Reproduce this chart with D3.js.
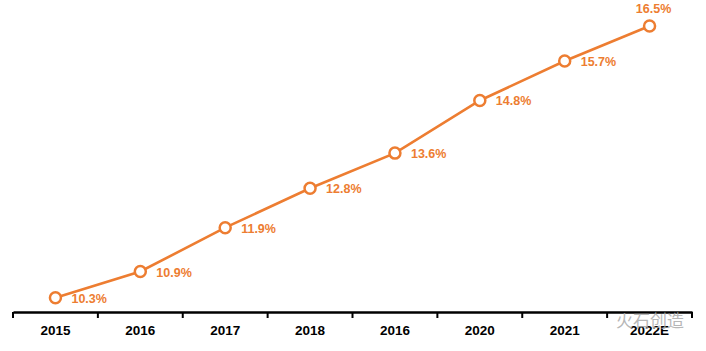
<!DOCTYPE html>
<html>
<head>
<meta charset="utf-8">
<script src="https://cdn.jsdelivr.net/npm/d3@7"></script>
<style>
  body { margin: 0; background: #fff; }
  svg { display: block; font-family: "Liberation Sans", Arial, sans-serif; }
</style>
</head>
<body>
<div id="chart"></div>
<script>
const categories = ["2015", "2016", "2017", "2018", "2016", "2020", "2021", "2022E"]
const values = [10.3, 10.9, 11.9, 12.8, 13.6, 14.8, 15.7, 16.5]
const labels = ["10.3%", "10.9%", "11.9%", "12.8%", "13.6%", "14.8%", "15.7%", "16.5%"]

const W = 706, H = 351
const color = "#ED7D31"
const margin = { left: 13, right: 14, top: 4, bottom: 40 }

const svg = d3.select("#chart").append("svg")
    .attr("width", W)
    .attr("height", H)

// x: one band per category, point at band centre
const x = d3.scaleBand()
    .domain(d3.range(categories.length))
    .range([margin.left, W - margin.right])

const y = d3.scaleLinear()
    .domain([10, 17])
    .range([H - margin.bottom, margin.top])

const axisY = 312

/* X AXIS */
const xAxis = svg.append("g")
    .attr("transform", `translate(0, ${axisY})`)
    .call(d3.axisBottom(x).tickSize(0).tickFormat(i => categories[i]))

xAxis.select(".domain")
    .attr("stroke", "#000")
    .attr("stroke-width", 2.5)
xAxis.selectAll("text")
    .attr("dy", 0)
    .attr("y", 23)
    .style("font-size", "13.5px")
    .style("font-weight", "bold")
    .style("font-family", "'Liberation Sans', Arial, sans-serif")
    .attr("fill", "#000")

// tick marks on band boundaries
const bounds = d3.range(categories.length + 1).map(i => margin.left + i * x.step())
xAxis.selectAll(".bound")
    .data(bounds)
    .enter()
    .append("line")
    .attr("class", "bound")
    .attr("x1", d => d)
    .attr("x2", d => d)
    .attr("y1", 0)
    .attr("y2", 6)
    .attr("stroke", "#000")
    .attr("stroke-width", 2)

const cx = i => x(i) + x.bandwidth() / 2

/* LINE */
svg.append("path")
    .datum(values)
    .attr("fill", "none")
    .attr("stroke", color)
    .attr("stroke-width", 2.6)
    .attr("d", d3.line().x((d, i) => cx(i)).y(d => y(d)))

/* MARKERS */
svg.selectAll(".pt")
    .data(values)
    .enter()
    .append("circle")
    .attr("class", "pt")
    .attr("cx", (d, i) => cx(i))
    .attr("cy", d => y(d))
    .attr("r", 5.5)
    .attr("fill", "#fff")
    .attr("stroke", color)
    .attr("stroke-width", 2.5)

/* LABELS */
const last = values.length - 1
svg.selectAll(".lbl")
    .data(values)
    .enter()
    .append("text")
    .attr("class", "lbl")
    .attr("x", (d, i) => i === last ? cx(i) + 4 : cx(i) + 16)
    .attr("y", (d, i) => i === last ? y(d) - 13 : y(d) + 5)
    .attr("text-anchor", (d, i) => i === last ? "middle" : "start")
    .attr("fill", color)
    .style("font-size", "12.5px")
    .style("font-weight", "bold")
    .text((d, i) => labels[i])

/* WATERMARK TEXT */
svg.append("text")
    .attr("x", 616)
    .attr("y", 327)
    .attr("fill", "#aaa")
    .attr("fill-opacity", 0.85)
    .style("font-family", "'Noto Sans CJK SC', sans-serif")
    .style("font-size", "17px")
    .text("火石创造")
</script>
</body>
</html>
